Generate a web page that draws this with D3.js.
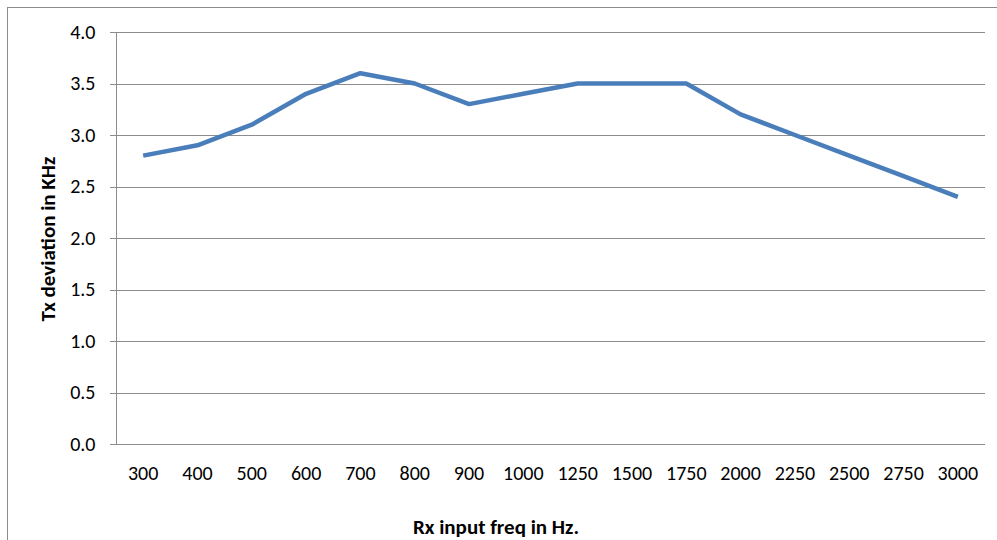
<!DOCTYPE html>
<html>
<head>
<meta charset="utf-8">
<script src="https://cdn.jsdelivr.net/npm/d3@7"></script>
<style>
  body { margin: 0; background: #fff; }
  svg text { font-family: Carlito, Lato, "Open Sans", sans-serif; }
</style>
</head>
<body>
<script>
var width = 997;
var height = 540;

var margin = {top: 32, left: 116, right: 12, bottom: 96};

var categories = ["300","400","500","600","700","800","900","1000","1250","1500","1750","2000","2250","2500","2750","3000"];
var deviation = [2.8, 2.9, 3.1, 3.4, 3.6, 3.5, 3.3, 3.4, 3.5, 3.5, 3.5, 3.2, 3.0, 2.8, 2.6, 2.4];
var yTicks = [0, 0.5, 1.0, 1.5, 2.0, 2.5, 3.0, 3.5, 4.0];

var svg = d3.select("body")
  .append("svg")
  .attr("width", width)
  .attr("height", height);

// outer chart border (runs off the right and bottom edge)
svg.append("rect")
  .attr("x", 7.5).attr("y", 7.5)
  .attr("width", width + 10).attr("height", height + 10)
  .attr("fill", "none")
  .attr("stroke", "#8c8c8c")
  .attr("stroke-width", 1);

var xScale = d3.scaleBand()
  .domain(categories)
  .range([margin.left, width - margin.right]);

var yScale = d3.scaleLinear()
  .domain([0, 4])
  .range([height - margin.bottom, margin.top]);

var plotBottom = yScale(0);

// grid lines
svg.append("g")
  .selectAll("line")
  .data(yTicks)
  .enter()
  .append("line")
    .attr("x1", margin.left - 6)
    .attr("x2", width - margin.right)
    .attr("y1", function(d) { return Math.round(yScale(d)) + 0.5; })
    .attr("y2", function(d) { return Math.round(yScale(d)) + 0.5; })
    .attr("stroke", "#8c8c8c")
    .attr("stroke-width", 1);

// y axis
var yAxis = svg.append("g")
  .attr("transform", "translate(" + (margin.left + 0.5) + ",0)")
  .call(d3.axisLeft(yScale).tickValues(yTicks).tickFormat(d3.format(".1f")).tickSize(6).tickPadding(15));
yAxis.select(".domain").attr("stroke", "#8c8c8c").attr("d", "M0," + margin.top + "V" + plotBottom);
yAxis.selectAll(".tick line").remove();
yAxis.selectAll("text").attr("font-size", 20).attr("fill", "#000");

// x axis
var xAxis = svg.append("g")
  .attr("transform", "translate(0," + plotBottom + ")")
  .call(d3.axisBottom(xScale).tickSize(0).tickPadding(22));
xAxis.select(".domain").remove();
xAxis.selectAll("text").attr("font-size", 20).attr("fill", "#000");

// line
var line = d3.line()
  .x(function(d, i) { return xScale(categories[i]) + xScale.bandwidth() / 2; })
  .y(function(d) { return yScale(d); });

svg.append("path")
  .datum(deviation)
  .attr("d", line)
  .attr("fill", "none")
  .attr("stroke", "#4a7ebb")
  .attr("stroke-width", 4.5)
  .attr("stroke-linejoin", "round");

// axis titles
svg.append("text")
  .attr("transform", "translate(55,239) rotate(-90)")
  .attr("text-anchor", "middle")
  .attr("font-size", 21)
  .attr("font-weight", "bold")
  .text("Tx deviation in KHz");

svg.append("text")
  .attr("x", 496)
  .attr("y", 534)
  .attr("text-anchor", "middle")
  .attr("font-size", 21)
  .attr("font-weight", "bold")
  .text("Rx input freq in Hz.");
</script>
</body>
</html>
